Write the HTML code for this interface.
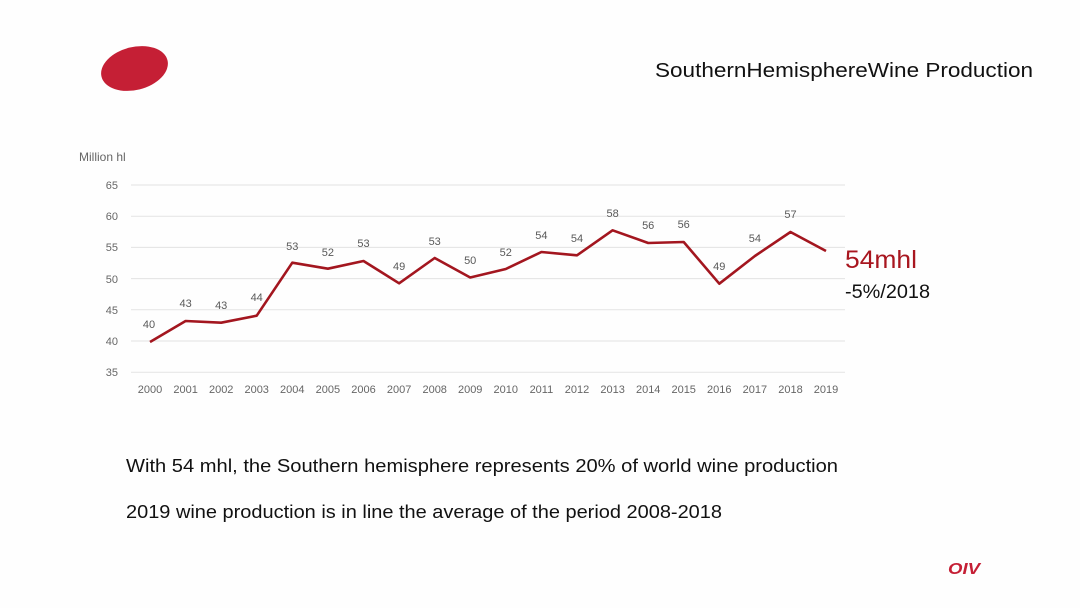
<!DOCTYPE html>
<html>
<head>
<meta charset="utf-8">
<style>
  html,body{margin:0;padding:0;background:#fff;}
  svg{display:block;font-family:"Liberation Sans",Arial,sans-serif;}
</style>
</head>
<body>
<svg width="1080" height="608" viewBox="0 0 1080 608" xmlns="http://www.w3.org/2000/svg">
  <rect width="1080" height="608" fill="#fefefe"/>
  <!-- logo -->
  <ellipse cx="134.5" cy="68.5" rx="34" ry="21.5" transform="rotate(-14 134.5 68.5)" fill="#c51f35"/>
  <!-- title -->
  <text x="655" y="77" font-size="20" fill="#111" textLength="378" lengthAdjust="spacingAndGlyphs">SouthernHemisphereWine Production</text>

  <!-- axis title -->
  <text x="79" y="161" font-size="12" fill="#666">Million hl</text>

  <!-- gridlines -->
  <g stroke="#e3e3e3" stroke-width="1">
    <line x1="131" y1="185" x2="845" y2="185"/>
    <line x1="131" y1="216.2" x2="845" y2="216.2"/>
    <line x1="131" y1="247.4" x2="845" y2="247.4"/>
    <line x1="131" y1="278.6" x2="845" y2="278.6"/>
    <line x1="131" y1="309.8" x2="845" y2="309.8"/>
    <line x1="131" y1="341" x2="845" y2="341"/>
    <line x1="131" y1="372.2" x2="845" y2="372.2"/>
  </g>
  <!-- y labels -->
  <g font-size="11" fill="#666" text-anchor="end">
    <text x="118" y="189">65</text>
    <text x="118" y="220">60</text>
    <text x="118" y="251">55</text>
    <text x="118" y="283">50</text>
    <text x="118" y="314">45</text>
    <text x="118" y="345">40</text>
    <text x="118" y="376">35</text>
  </g>
  <!-- x labels -->
  <g font-size="11" fill="#666" text-anchor="middle">
    <text x="150" y="393">2000</text>
    <text x="185.6" y="393">2001</text>
    <text x="221.2" y="393">2002</text>
    <text x="256.7" y="393">2003</text>
    <text x="292.3" y="393">2004</text>
    <text x="327.9" y="393">2005</text>
    <text x="363.5" y="393">2006</text>
    <text x="399.1" y="393">2007</text>
    <text x="434.7" y="393">2008</text>
    <text x="470.2" y="393">2009</text>
    <text x="505.8" y="393">2010</text>
    <text x="541.4" y="393">2011</text>
    <text x="577" y="393">2012</text>
    <text x="612.6" y="393">2013</text>
    <text x="648.2" y="393">2014</text>
    <text x="683.7" y="393">2015</text>
    <text x="719.3" y="393">2016</text>
    <text x="754.9" y="393">2017</text>
    <text x="790.5" y="393">2018</text>
    <text x="826" y="393">2019</text>
  </g>
  <!-- series -->
  <polyline fill="none" stroke="#a3161f" stroke-width="2.6" stroke-linejoin="round"
    points="150,342 185.6,321 221.2,322.7 256.7,315.7 292.3,262.7 327.9,268.7 363.5,261 399.1,283.3 434.7,258 470.2,277.5 505.8,269 541.4,252 577,255.3 612.6,230.3 648.2,243 683.7,242 719.3,283.7 754.9,256 790.5,232 826,251"/>
  <!-- data labels -->
  <g font-size="11" fill="#595959" text-anchor="middle">
    <text x="149" y="328">40</text>
    <text x="185.6" y="307">43</text>
    <text x="221.2" y="309">43</text>
    <text x="256.7" y="301">44</text>
    <text x="292.3" y="250">53</text>
    <text x="327.9" y="256">52</text>
    <text x="363.5" y="247">53</text>
    <text x="399.1" y="270">49</text>
    <text x="434.7" y="245">53</text>
    <text x="470.2" y="264">50</text>
    <text x="505.8" y="256">52</text>
    <text x="541.4" y="239">54</text>
    <text x="577" y="242">54</text>
    <text x="612.6" y="217">58</text>
    <text x="648.2" y="229">56</text>
    <text x="683.7" y="228">56</text>
    <text x="719.3" y="270">49</text>
    <text x="754.9" y="242">54</text>
    <text x="790.5" y="218">57</text>
  </g>

  <!-- annotation -->
  <text x="845" y="268" font-size="25" fill="#a8161f" textLength="72" lengthAdjust="spacingAndGlyphs">54mhl</text>
  <text x="845" y="298" font-size="19" fill="#111" textLength="85" lengthAdjust="spacingAndGlyphs">-5%/2018</text>

  <!-- bottom text -->
  <text x="126" y="472" font-size="18" fill="#111" textLength="712" lengthAdjust="spacingAndGlyphs">With 54 mhl, the Southern hemisphere represents 20% of world wine production</text>
  <text x="126" y="518" font-size="18" fill="#111" textLength="596" lengthAdjust="spacingAndGlyphs">2019 wine production is in line the average of the period 2008-2018</text>

  <!-- OIV logo -->
  <text x="948" y="574" font-size="16" font-weight="bold" font-style="italic" fill="#c51f35" textLength="32" lengthAdjust="spacingAndGlyphs">OIV</text>
</svg>
</body>
</html>
